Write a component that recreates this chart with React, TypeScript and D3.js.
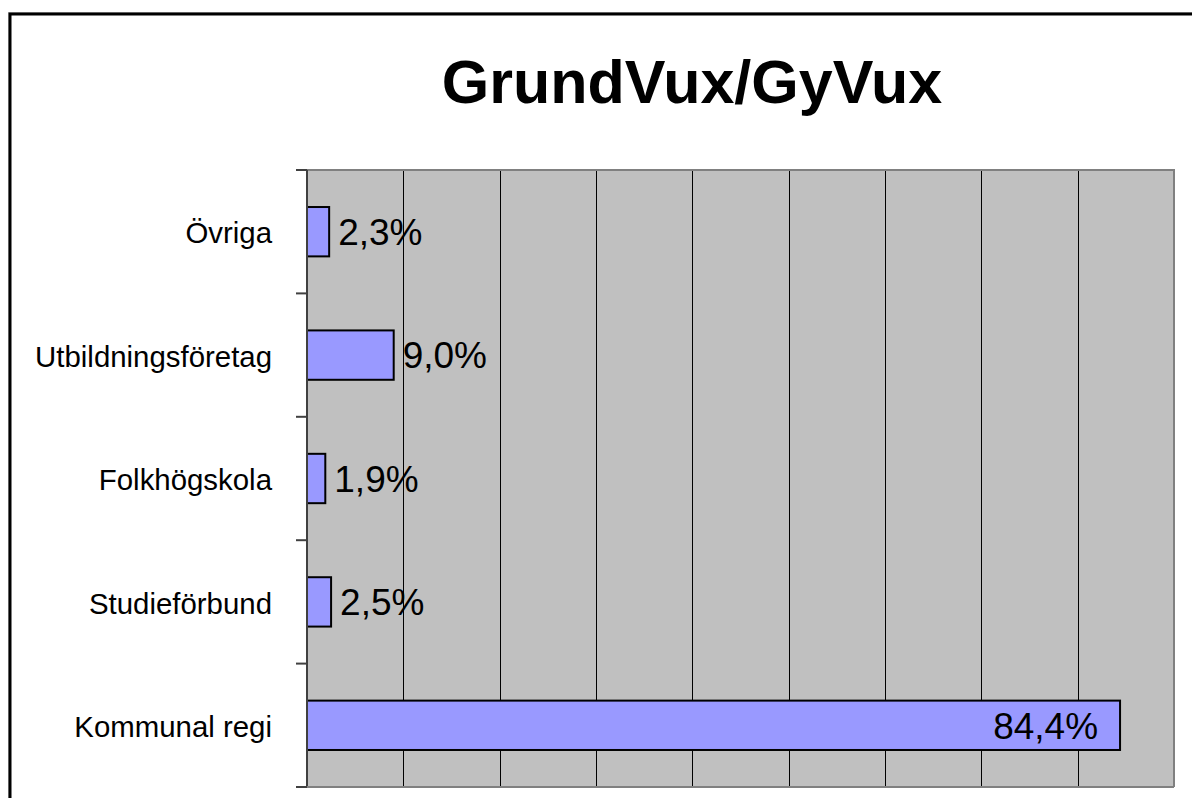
import React, { useEffect, useRef } from "react";
import * as d3 from "d3";

const categories = ["Övriga", "Utbildningsföretag", "Folkhögskola", "Studieförbund", "Kommunal regi"];
const shares = [2.3, 9.0, 1.9, 2.5, 84.4];
const xTicks = [0, 10, 20, 30, 40, 50, 60, 70, 80, 90];
const title = "GrundVux/GyVux";

const W = 1192;
const H = 798;
const FONT = "Arial, 'Liberation Sans', sans-serif";

export default function App() {
  const svgRef = useRef<SVGSVGElement>(null);

  useEffect(() => {
    const svg = d3.select(svgRef.current);
    svg.selectAll("*").remove();

    const margin = { top: 170, right: 18, bottom: 11, left: 307 };
    const plotRight = W - margin.right;
    const plotBottom = H - margin.bottom;

    const x = d3.scaleLinear().domain([0, 90]).range([margin.left, plotRight]);
    const y = d3
      .scaleBand<string>()
      .domain(categories)
      .range([margin.top, plotBottom])
      .paddingInner(0.6)
      .paddingOuter(0.3);

    const locale = d3.formatLocale({ decimal: ",", thousands: " ", grouping: [3], currency: ["", " kr"] });
    const fmt = locale.format(".1f");

    // outer frame (chart area border)
    svg.append("rect")
      .attr("x", 8.5).attr("y", 12.5)
      .attr("width", W + 20).attr("height", H + 20)
      .attr("fill", "none").attr("stroke", "#c0c0c0").attr("stroke-width", 1);
    svg.append("rect")
      .attr("x", 10).attr("y", 14)
      .attr("width", W + 20).attr("height", H + 20)
      .attr("fill", "#fff").attr("stroke", "#000").attr("stroke-width", 3);

    // title
    svg.append("text")
      .attr("x", 692).attr("y", 103)
      .attr("text-anchor", "middle")
      .style("font-family", FONT).style("font-size", "61px").style("font-weight", "bold")
      .text(title);

    // plot background
    svg.append("rect")
      .attr("x", margin.left).attr("y", margin.top)
      .attr("width", plotRight - margin.left).attr("height", plotBottom - margin.top)
      .attr("fill", "#c0c0c0");

    // vertical grid
    svg.append("g")
      .selectAll("line")
      .data(xTicks.slice(1, -1))
      .join("line")
      .attr("x1", (d) => Math.round(x(d)) + 0.5).attr("x2", (d) => Math.round(x(d)) + 0.5)
      .attr("y1", margin.top).attr("y2", plotBottom)
      .attr("stroke", "#000").attr("stroke-width", 1);

    // plot border top / right
    svg.append("path")
      .attr("d", `M${margin.left},${margin.top}H${plotRight}V${plotBottom}`)
      .attr("fill", "none").attr("stroke", "#808080").attr("stroke-width", 2);

    // bars
    svg.append("g")
      .selectAll("rect")
      .data(categories)
      .join("rect")
      .attr("x", x(0))
      .attr("y", (d) => y(d)!)
      .attr("width", (d, i) => x(shares[i]) - x(0))
      .attr("height", y.bandwidth())
      .attr("fill", "#9999ff")
      .attr("stroke", "#000")
      .attr("stroke-width", 2);

    // value labels
    svg.append("g")
      .selectAll("text")
      .data(categories)
      .join("text")
      .attr("x", (d, i) => (shares[i] > 50 ? x(shares[i]) - 22 : x(shares[i]) + 9))
      .attr("y", (d) => y(d)! + y.bandwidth() / 2)
      .attr("dy", "0.36em")
      .attr("text-anchor", (d, i) => (shares[i] > 50 ? "end" : "start"))
      .style("font-family", FONT).style("font-size", "37px")
      .text((d, i) => fmt(shares[i]) + "%");

    // y axis line + ticks at band boundaries
    const step = y.step();
    const boundaries = d3.range(categories.length + 1).map((i) => margin.top + i * step);
    svg.append("g")
      .selectAll("line")
      .data(boundaries)
      .join("line")
      .attr("x1", margin.left - 11).attr("x2", margin.left)
      .attr("y1", (d) => d).attr("y2", (d) => d)
      .attr("stroke", "#404040").attr("stroke-width", 2);
    svg.append("line")
      .attr("x1", margin.left).attr("x2", margin.left)
      .attr("y1", margin.top).attr("y2", plotBottom)
      .attr("stroke", "#404040").attr("stroke-width", 2);
    svg.append("line")
      .attr("x1", margin.left).attr("x2", plotRight)
      .attr("y1", plotBottom).attr("y2", plotBottom)
      .attr("stroke", "#808080").attr("stroke-width", 2);

    // category labels
    svg.append("g")
      .selectAll("text")
      .data(categories)
      .join("text")
      .attr("x", 272)
      .attr("y", (d) => y(d)! + y.bandwidth() / 2)
      .attr("dy", "0.4em")
      .attr("text-anchor", "end")
      .style("font-family", FONT).style("font-size", "29.4px")
      .text((d) => d);
  }, []);

  return (
    <svg
      ref={svgRef}
      width={W}
      height={H}
      style={{ position: "absolute", left: 0, top: 0, background: "#fff" }}
    />
  );
}
